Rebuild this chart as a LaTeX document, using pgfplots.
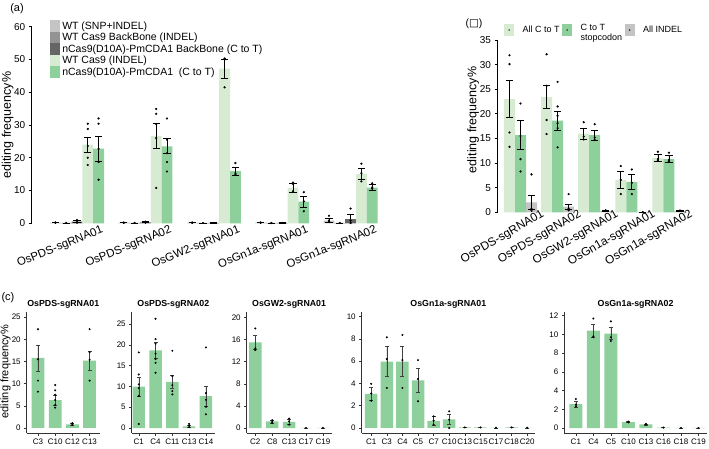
\documentclass[border=0pt]{standalone}
\usepackage{pgfplots}
\pgfplotsset{compat=1.18}
\usepackage{fontspec}
\setmainfont{Liberation Sans}
\newfontfamily\dejavu{DejaVu Sans}
\definecolor{lgreen}{HTML}{D6EBD2}
\definecolor{mgreen}{HTML}{8ED09B}
\definecolor{ga}{HTML}{C4C4C4}
\definecolor{gb}{HTML}{939393}
\definecolor{gc}{HTML}{656565}
\newcommand{\fs}[1]{\fontsize{#1}{#1}\selectfont}
\pgfplotsset{
  ebar/.style={error bars/.cd, y dir=both, y explicit, error bar style={black, line width=0.7pt}, error mark options={black, rotate=90, mark size=3.6pt, line width=0.7pt}},
  ebarc/.style={error bars/.cd, y dir=both, y explicit, error bar style={black!75, line width=0.45pt}, error mark options={black!75, rotate=90, mark size=2pt, line width=0.45pt}},
  pts/.style={only marks, mark=*, mark size=0.9pt, black, forget plot},
  ptsc/.style={only marks, mark=*, mark size=0.8pt, black, forget plot},
  cax/.style={scale only axis, height=121.3pt, axis lines*=left, axis line style={-, black!80, line width=0.5pt},
    tick align=outside, major tick length=2.5pt, tick style={black!80, line width=0.5pt},
    ticklabel style={font=\fs{8}}, /pgf/number format/assume math mode=true,
    every axis title/.style={at={(0.5,1)}, anchor=center, yshift=7.7pt, font=\bfseries\fs{8.8}}},
}
\begin{document}
\begin{tikzpicture}
\useasboundingbox (0pt,0pt) rectangle (709pt,448pt);
\node[font=\fs{11}] at (17pt,439pt) {(a)};
\node[font=\fs{10.5}] at (474pt,424.7pt) {({\dejavu □})};
\node[font=\fs{11}] at (8pt,150.5pt) {(c)};

% ---------------- (a)
\begin{axis}[
 at={(31.7pt,224.7pt)}, anchor=south west, scale only axis, width=353.1pt, height=196.6pt,
 xmin=-0.662, xmax=4.5, ymin=0, ymax=60,
 axis lines*=left, axis line style={-}, x axis line style={draw=none},
 y axis line style={line width=0.9pt},
 /pgf/number format/assume math mode=true,
 ytick={0,10,...,60}, tick align=outside, major tick length=3pt,
 ytick style={line width=0.8pt, black},
 xtick={0,1,2,3,4}, xtick style={draw=none},
 xticklabels={OsPDS-sgRNA01,OsPDS-sgRNA02,OsGW2-sgRNA01,OsGn1a-sgRNA01,OsGn1a-sgRNA02},
 xticklabel style={rotate=22, anchor=north east, xshift=26pt, yshift=-4pt, font=\fs{11.5}},
 yticklabel style={font=\fs{10}},
 ylabel={editing frequency\%},
 every axis y label/.style={at={(axis description cs:-0.068,0.5)}, rotate=90, anchor=center, font=\fs{12.5}},
 legend style={at={(axis description cs:0.052,1.034)}, anchor=north west, draw=none, fill=none,
   font=\fs{10.5}, row sep=0pt, inner sep=0pt, nodes={inner sep=0pt, inner xsep=2pt}},
 legend cell align=left,
]
\addplot[ybar, bar width=0.158, bar shift=0pt, fill=ga, draw=none,
  legend image code/.code={\fill[ga] (0pt,-5.75pt) rectangle (10pt,5.75pt);}, ebar]
  coordinates {(-0.316,0.2) +- (0,0.05) (0.684,0.2) +- (0,0.05) (1.684,0.2) +- (0,0.05) (2.684,0.2) +- (0,0.05) (3.684,0.8) +- (0,0.6)};
\addlegendentry{WT (SNP+INDEL)}
\addplot[ybar, bar width=0.158, bar shift=0pt, fill=gb, draw=none,
  legend image code/.code={\fill[gb] (0pt,-5.75pt) rectangle (10pt,5.75pt);}, ebar]
  coordinates {(-0.158,0.1) +- (0,0) (0.842,0.1) +- (0,0) (1.842,0.1) +- (0,0) (2.842,0.1) +- (0,0) (3.842,0.1) +- (0,0)};
\addlegendentry{WT Cas9 BackBone (INDEL)}
\addplot[ybar, bar width=0.158, bar shift=0pt, fill=gc, draw=none,
  legend image code/.code={\fill[gc] (0pt,-5.75pt) rectangle (10pt,5.75pt);}, ebar]
  coordinates {(0,0.5) +- (0,0.35) (1,0.3) +- (0,0.15) (2,0.1) +- (0,0.05) (3,0.1) +- (0,0.05) (4,1.3) +- (0,1.5)};
\addlegendentry{nCas9(D10A)-PmCDA1 BackBone (C to T)}
\addplot[ybar, bar width=0.158, bar shift=0pt, fill=lgreen, draw=none,
  legend image code/.code={\fill[lgreen] (0pt,-5.75pt) rectangle (10pt,5.75pt);}, ebar]
  coordinates {(0.158,24.0) +- (0,2.2) (1.158,26.7) +- (0,3.8) (2.158,47.2) +- (0,2.9) (3.158,10.8) +- (0,1.4) (4.158,15.0) +- (0,1.7)};
\addlegendentry{WT Cas9 (INDEL)}
\addplot[ybar, bar width=0.158, bar shift=0pt, fill=mgreen, draw=none,
  legend image code/.code={\fill[mgreen] (0pt,-5.75pt) rectangle (10pt,5.75pt);}, ebar]
  coordinates {(0.316,22.8) +- (0,3.8) (1.316,23.5) +- (0,2.3) (2.316,15.9) +- (0,1.2) (3.316,6.6) +- (0,1.6) (4.316,10.9) +- (0,0.9)};
\addlegendentry{nCas9(D10A)-PmCDA1 \ (C to T)}
\addplot[pts] coordinates {(-0.316,0.3) (-0.316,0.15) (0.684,0.25) (0.684,0.15) (1.684,0.25) (1.684,0.15) (2.684,0.25) (2.684,0.15) (3.684,2.3) (3.684,0.8) (3.684,0.4)};
\addplot[pts] coordinates {(-0.158,0.1) (0.842,0.1) (1.842,0.1) (2.842,0.1) (3.842,0.1)};
\addplot[pts] coordinates {(0,1.0) (0,0.4) (0,0.2) (1,0.5) (1,0.3) (1,0.2) (2,0.1) (3,0.1) (4,4.5) (4,0.8) (4,0.1)};
\addplot[pts] coordinates {(0.158,30.4) (0.158,28.8) (0.158,23.6) (0.158,20.0) (0.158,17.8)
  (1.158,34.9) (1.158,33.4) (1.158,30.3) (1.158,26.0) (1.158,10.8)
  (2.158,50.3) (2.158,50.0) (2.158,41.5) (3.158,12.4) (3.158,12.0) (3.158,9.8)
  (4.158,18.2) (4.158,15.3) (4.158,12.8)};
\addplot[pts] coordinates {(0.316,32.0) (0.316,30.4) (0.316,22.7) (0.316,18.7) (0.316,13.3)
  (1.316,32.0) (1.316,25.5) (1.316,21.4) (1.316,18.7) (1.316,15.8)
  (2.316,18.4) (2.316,15.3) (2.316,14.8) (3.316,9.5) (3.316,6.7) (3.316,3.7)
  (4.316,12.2) (4.316,11.0) (4.316,10.6)};
\end{axis}

% ---------------- (b)
\begin{axis}[
 at={(497.5pt,235.7pt)}, anchor=south west, scale only axis, width=189.6pt, height=172.3pt,
 xmin=-0.62, xmax=4.49, ymin=0, ymax=35,
 axis lines*=left, axis line style={-}, x axis line style={draw=none},
 y axis line style={line width=0.9pt},
 /pgf/number format/assume math mode=true,
 ytick={0,5,...,35}, tick align=outside, major tick length=3pt,
 ytick style={line width=0.8pt, black},
 xtick={0,1,2,3,4}, xtick style={draw=none},
 xticklabels={OsPDS-sgRNA01,OsPDS-sgRNA02,OsGW2-sgRNA01,OsGn1a-sgRNA01,OsGn1a-sgRNA02},
 xticklabel style={rotate=30, anchor=north east, xshift=24pt, yshift=-1pt, font=\fs{11.8}},
 yticklabel style={font=\fs{10}},
 ylabel={editing frequency\%},
 every axis y label/.style={at={(axis description cs:-0.128,0.536)}, rotate=90, anchor=center, font=\fs{12.5}},
 legend columns=3,
 legend style={at={(axis description cs:0.034,1.099)}, anchor=north west, draw=none, fill=none,
   font=\fontsize{9}{10}\selectfont, row sep=0pt, inner sep=0pt, nodes={inner sep=0pt, inner xsep=2.5pt},
   /tikz/every odd column/.append style={column sep=6pt}},
 legend cell align=left,
]
\addplot[ybar, bar width=0.297, bar shift=0pt, fill=lgreen, draw=none,
  legend image code/.code={\fill[lgreen] (0pt,-6pt) rectangle (10pt,6pt); \fill[black] (5pt,0pt) circle (0.8pt);}, ebar]
  coordinates {(-0.297,23.0) +- (0,3.8) (0.703,23.4) +- (0,2.3) (1.703,16.0) +- (0,1.15) (2.703,6.6) +- (0,1.7) (3.703,11.0) +- (0,0.7)};
\addlegendentry{All C to T}
\addplot[ybar, bar width=0.297, bar shift=0pt, fill=mgreen, draw=none,
  legend image code/.code={\fill[mgreen] (0pt,-6pt) rectangle (10pt,6pt); \fill[black] (5pt,0pt) circle (0.8pt);}, ebar]
  coordinates {(0,15.7) +- (0,2.9) (1,18.6) +- (0,2.0) (2,15.7) +- (0,1.0) (3,6.2) +- (0,1.45) (4,10.8) +- (0,0.7)};
\addlegendentry{\begin{tabular}{@{}l@{}}C to T\\stopcodon\end{tabular}}
\addplot[ybar, bar width=0.297, bar shift=0pt, fill=ga, draw=none,
  legend image code/.code={\fill[ga] (0pt,-6pt) rectangle (10pt,6pt); \fill[black] (5pt,0pt) circle (0.8pt);}, ebar]
  coordinates {(0.297,2.0) +- (0,1.4) (1.297,1.15) +- (0,0.5) (2.297,0.3) +- (0,0.05) (3.297,0.05) +- (0,0.02) (4.297,0.3) +- (0,0.05)};
\addlegendentry{All INDEL}
\addplot[pts] coordinates {(-0.297,31.9) (-0.297,30.1) (-0.297,16.2) (-0.297,13.3)
  (0.703,32.1) (0.703,25.7) (0.703,18.75) (0.703,15.9)
  (1.703,18.3) (1.703,15.4) (1.703,14.8) (2.703,9.4) (2.703,6.6) (2.703,3.7)
  (3.703,12.3) (3.703,10.8) (3.703,10.5)};
\addplot[pts] coordinates {(0,22.1) (0,15.5) (0,10.8) (0,8.3)
  (1,26.5) (1,21.5) (1,19.6) (1,18.1) (1,17.1) (1,13.2)
  (2,17.9) (2,15.2) (2,14.7) (3,8.7) (3,6.0) (3,3.7) (4,12.1) (4,10.6) (4,10.3)};
\addplot[pts] coordinates {(0.297,7.7) (0.297,0.7) (0.297,0.3) (1.297,3.7) (1.297,0.8) (1.297,0.4)
  (2.297,0.4) (2.297,0.3) (3.297,0.05) (4.297,0.35) (4.297,0.3)};
\end{axis}

% ---------------- (c1)
\begin{axis}[cax, at={(26.7pt,15pt)}, anchor=south west, width=73.2pt,
 xmin=-0.657, xmax=3.6, ymin=-1.13, ymax=26.25, ytick={0,5,...,25},
 xtick={0,1,2,3}, xticklabels={C3,C10,C12,C13},
 title={OsPDS-sgRNA01},
 ylabel={editing frequency\%},
 every axis y label/.style={at={(axis description cs:-0.289,0.507)}, rotate=90, anchor=center, font=\fs{11}},
]
\addplot[ybar, bar width=0.74, bar shift=0pt, fill=mgreen, draw=none, ebarc]
 coordinates {(0,15.8) +- (0,2.9) (1,6.3) +- (0,1.1) (2,0.8) +- (0,0.2) (3,15.2) +- (0,2.2)};
\addplot[ptsc] coordinates {(0,22.3) (0,15.5) (0,10.7) (0,8.2) (1,9.7) (1,8.5) (1,7.5) (1,6.3) (1,5.2) (1,4.6)
 (2,1.1) (2,0.9) (2,0.7) (3,22.3) (3,17.1) (3,15.4) (3,10.7)};
\end{axis}

% ---------------- (c2)
\begin{axis}[cax, at={(131.7pt,15pt)}, anchor=south west, width=83.3pt,
 xmin=-0.42, xmax=4.54, ymin=-1.2, ymax=28.0, ytick={0,5,...,25},
 xtick={0,1,2,3,4}, xticklabels={C1,C4,C11,C13,C14},
 title={OsPDS-sgRNA02},
]
\addplot[ybar, bar width=0.74, bar shift=0pt, fill=mgreen, draw=none, ebarc]
 coordinates {(0,9.95) +- (0,2.25) (1,18.7) +- (0,1.95) (2,11.1) +- (0,1.55) (3,0.4) +- (0,0.3) (4,7.7) +- (0,2.4)};
\addplot[ptsc] coordinates {(0,18.2) (0,12.9) (0,10.5) (0,9.6) (0,7.7) (0,0.96)
 (1,26.3) (1,21.4) (1,20.3) (1,17.9) (1,16.6) (1,15.7) (1,13.3)
 (2,18.6) (2,12.5) (2,10.3) (2,8.9) (2,8.1) (3,1.0) (3,0.6) (3,0.2)
 (4,19.4) (4,8.4) (4,6.8) (4,5.1) (4,3.3)};
\end{axis}

% ---------------- (c3)
\begin{axis}[cax, at={(246.7pt,15pt)}, anchor=south west, width=84.8pt,
 xmin=-0.51, xmax=4.51, ymin=-0.9, ymax=21.03, ytick={0,4,...,20},
 xtick={0,1,2,3,4}, xticklabels={C2,C8,C13,C17,C19},
 title={OsGW2-sgRNA01},
]
\addplot[ybar, bar width=0.74, bar shift=0pt, fill=mgreen, draw=none, ebarc]
 coordinates {(0,15.5) +- (0,1.2) (1,1.2) +- (0,0.25) (2,1.1) +- (0,0.45) (3,0.03) +- (0,0) (4,0.03) +- (0,0)};
\addplot[ptsc] coordinates {(0,18.0) (0,14.4) (0,14.1) (1,1.4) (1,1.1) (1,0.9) (2,1.7) (2,1.2) (2,0.6) (3,0.03) (4,0.03)};
\end{axis}

% ---------------- (c4)
\begin{axis}[cax, at={(361.7pt,15pt)}, anchor=south west, width=173.3pt,
 xmin=-0.61, xmax=10.5, ymin=-0.45, ymax=10.45, ytick={0,2,...,10},
 xtick={0,...,10}, xticklabels={C1,C3,C4,C5,C7,C10,C13,C15,C17,C18,C20},
 title={OsGn1a-sgRNA01},
]
\addplot[ybar, bar width=0.8, bar shift=0pt, fill=mgreen, draw=none, ebarc]
 coordinates {(0,3.07) +- (0,0.55) (1,5.97) +- (0,1.35) (2,5.97) +- (0,1.35) (3,4.27) +- (0,1.1) (4,0.63) +- (0,0.4)
 (5,0.78) +- (0,0.46) (6,0.05) +- (0,0) (7,0.05) +- (0,0) (8,0.02) +- (0,0) (9,0.05) +- (0,0) (10,0.02) +- (0,0)};
\addplot[ptsc] coordinates {(0,3.97) (0,3.1) (0,2.45) (1,8.15) (1,6.2) (1,3.6) (2,8.36) (2,6.1) (2,3.6)
 (3,6.1) (3,4.4) (3,2.4) (4,1.04) (4,0.66) (4,0.3) (5,1.5) (5,0.75) (5,0.0)
 (6,0.05) (7,0.05) (8,0.02) (9,0.05) (10,0.02)};
\end{axis}

% ---------------- (c5)
\begin{axis}[cax, at={(564.3pt,15pt)}, anchor=south west, width=142.5pt,
 xmin=-0.66, xmax=7.48, ymin=-0.53, ymax=12.43, ytick={0,2,...,12},
 xtick={0,...,7}, xticklabels={C1,C4,C5,C10,C13,C16,C18,C19},
 title={OsGn1a-sgRNA02},
]
\addplot[ybar, bar width=0.74, bar shift=0pt, fill=mgreen, draw=none, ebarc]
 coordinates {(0,2.56) +- (0,0.35) (1,10.4) +- (0,0.7) (2,10.1) +- (0,0.65) (3,0.64) +- (0,0.05) (4,0.39) +- (0,0.05)
 (5,0.05) +- (0,0) (6,0.01) +- (0,0) (7,0.01) +- (0,0)};
\addplot[ptsc] coordinates {(0,3.1) (0,2.5) (0,2.3) (1,11.7) (1,9.8) (1,9.7) (2,11.4) (2,9.7) (2,9.3)
 (3,0.7) (3,0.6) (4,0.45) (4,0.35) (5,0.05) (6,0.01) (7,0.01)};
\end{axis}
\end{tikzpicture}
\end{document}
